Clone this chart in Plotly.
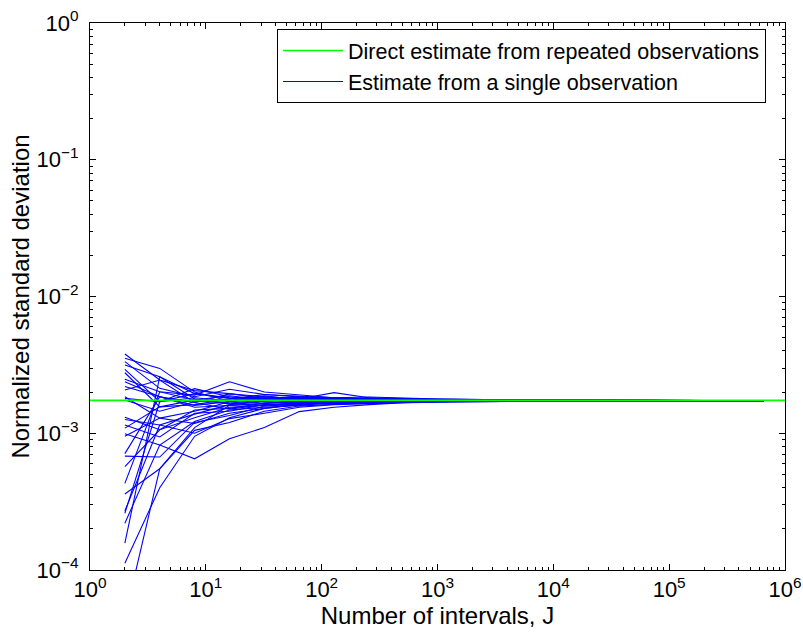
import plotly.graph_objects as go

# Number of intervals J (log axis)
J = [2, 4, 8, 16, 32, 64, 128, 256, 512, 1024, 4096, 16384, 65536, 655360]

# Normalized standard deviation from a single observation, in units of 1e-3 (one list per run)
runs = [
    [3.80, 2.45, 2.05, 1.95, 1.80, 1.84, 1.79, 1.76, 1.77, 1.75, 1.74, 1.745, 1.74, 1.73],
    [3.53, 2.98, 2.00, 1.72, 1.88, 1.76, 1.81, 1.78, 1.74, 1.76, 1.75, 1.74, 1.73, 1.73],
    [3.34, 2.13, 1.85, 2.10, 1.92, 1.85, 1.77, 1.80, 1.78, 1.77, 1.76, 1.75, 1.74, 1.73],
    [3.16, 2.59, 1.78, 1.66, 1.75, 1.70, 1.74, 1.72, 1.73, 1.75, 1.73, 1.74, 1.735, 1.73],
    [2.93, 1.70, 2.12, 1.85, 1.74, 1.80, 1.72, 1.74, 1.76, 1.74, 1.735, 1.73, 1.73, 1.725],
    [2.77, 1.56, 1.62, 1.78, 1.70, 1.68, 1.73, 1.70, 1.72, 1.73, 1.72, 1.73, 1.73, 1.725],
    [2.48, 2.01, 1.90, 2.38, 2.00, 1.92, 1.82, 1.84, 1.80, 1.78, 1.76, 1.75, 1.74, 1.73],
    [2.38, 1.85, 1.55, 1.60, 1.65, 1.74, 1.70, 1.75, 1.73, 1.72, 1.74, 1.73, 1.74, 1.73],
    [2.07, 2.45, 1.68, 1.50, 1.62, 1.66, 1.64, 1.68, 1.70, 1.71, 1.72, 1.725, 1.73, 1.725],
    [1.85, 1.29, 1.45, 1.70, 1.78, 1.73, 1.76, 1.74, 1.75, 1.74, 1.74, 1.74, 1.735, 1.73],
    [1.80, 1.70, 1.95, 1.80, 1.85, 1.78, 1.98, 1.82, 1.79, 1.76, 1.75, 1.74, 1.735, 1.73],
    [1.31, 1.06, 1.30, 1.55, 1.60, 1.68, 1.72, 1.66, 1.69, 1.71, 1.72, 1.73, 1.73, 1.725],
    [1.26, 1.15, 1.00, 1.28, 1.40, 1.55, 1.62, 1.65, 1.68, 1.70, 1.71, 1.72, 1.73, 1.725],
    [1.15, 0.94, 1.40, 1.45, 1.62, 1.60, 1.70, 1.72, 1.70, 1.73, 1.73, 1.73, 1.73, 1.73],
    [1.09, 1.56, 1.75, 1.64, 1.72, 1.76, 1.70, 1.74, 1.72, 1.74, 1.74, 1.735, 1.735, 1.73],
    [0.99, 0.82, 0.65, 0.91, 1.10, 1.44, 1.55, 1.62, 1.67, 1.69, 1.71, 1.72, 1.725, 1.725],
    [0.95, 1.29, 1.18, 1.40, 1.52, 1.62, 1.66, 1.70, 1.71, 1.72, 1.73, 1.73, 1.73, 1.73],
    [0.71, 1.85, 1.60, 1.70, 1.82, 1.75, 1.80, 1.77, 1.76, 1.75, 1.74, 1.74, 1.735, 1.73],
    [0.68, 0.67, 1.20, 1.35, 1.58, 1.64, 1.68, 1.71, 1.74, 1.72, 1.73, 1.73, 1.73, 1.73],
    [0.57, 1.06, 1.48, 1.52, 1.66, 1.70, 1.66, 1.70, 1.72, 1.73, 1.73, 1.735, 1.73, 1.73],
    [0.43, 2.01, 1.75, 1.88, 1.76, 1.80, 1.75, 1.78, 1.76, 1.75, 1.745, 1.74, 1.735, 1.73],
    [0.36, 0.55, 1.05, 1.20, 1.45, 1.58, 1.63, 1.67, 1.70, 1.71, 1.72, 1.72, 1.73, 1.725],
    [0.27, 1.15, 1.38, 1.62, 1.70, 1.66, 1.72, 1.71, 1.73, 1.74, 1.73, 1.735, 1.73, 1.73],
    [0.26, 1.70, 1.82, 1.72, 1.80, 1.82, 1.77, 1.76, 1.77, 1.75, 1.74, 1.74, 1.735, 1.73],
    [0.22, 0.82, 1.22, 1.48, 1.55, 1.60, 1.68, 1.69, 1.71, 1.72, 1.72, 1.73, 1.73, 1.725],
    [0.157, 2.59, 1.95, 1.82, 1.76, 1.84, 1.80, 1.76, 1.78, 1.76, 1.75, 1.74, 1.74, 1.73],
    [0.112, 0.40, 0.95, 1.30, 1.52, 1.63, 1.67, 1.70, 1.72, 1.72, 1.73, 1.73, 1.73, 1.725],
    [0.045, 0.55, 1.10, 1.60, 1.65, 1.72, 1.70, 1.73, 1.74, 1.73, 1.74, 1.735, 1.73, 1.73],
    [1.75, 1.45, 1.70, 1.78, 1.92, 1.86, 1.82, 1.79, 1.78, 1.77, 1.75, 1.745, 1.74, 1.73],
    [2.20, 1.85, 1.68, 1.94, 1.85, 1.79, 1.76, 1.78, 1.75, 1.76, 1.745, 1.74, 1.735, 1.73],
]

# direct estimate from repeated observations
direct_x = [1, 1e6]
direct_val = 1.74e-3

xtick_vals = [1, 10, 100, 1e3, 1e4, 1e5, 1e6]
xtick_text = ["10<sup>%d</sup>" % k for k in range(0, 7)]
ytick_vals = [1e-4, 1e-3, 1e-2, 1e-1, 1]
ytick_text = ["10<sup>\u2212%d</sup>" % k for k in (4, 3, 2, 1)] + ["10<sup>0</sup>"]

x_minor = [m * 10 ** e for e in range(0, 6) for m in range(2, 10)]
y_minor = [m * 10.0 ** e for e in range(-4, 0) for m in range(2, 10)]

fig = go.Figure()

for i, r in enumerate(runs):
    fig.add_trace(go.Scatter(
        x=J, y=[v * 1e-3 for v in r], mode="lines",
        line=dict(color="rgb(0,0,255)", width=1.1),
        name="Estimate from a single observation",
        showlegend=(i == 0), legendrank=2, hoverinfo="skip",
    ))

fig.add_trace(go.Scatter(
    x=direct_x, y=[direct_val, direct_val], mode="lines",
    line=dict(color="rgb(0,255,0)", width=1.6),
    name="Direct estimate from repeated observations",
    legendrank=1, hoverinfo="skip",
))

axis_common = dict(
    type="log", showgrid=False, zeroline=False, automargin=False,
    showline=True, linecolor="black", linewidth=1, mirror="allticks",
    ticks="inside", ticklen=6, tickcolor="black", tickwidth=1,
    ticklabeloverflow="allow",
    tickfont=dict(family="Liberation Sans, Arial", size=22, color="black"),
)

fig.update_layout(
    width=803, height=637,
    margin=dict(l=90, r=18, t=23, b=67),
    paper_bgcolor="white", plot_bgcolor="white",
    font=dict(family="Liberation Sans, Arial", size=20, color="black"),
    hovermode=False,
    xaxis=dict(
        axis_common, range=[0, 6], tickmode="array", tickvals=xtick_vals, ticktext=xtick_text,
        minor=dict(tickmode="array", tickvals=x_minor, ticks="inside", ticklen=3, tickcolor="black"),
        title=dict(text="Number of intervals, J", standoff=4),
    ),
    yaxis=dict(
        axis_common, range=[-4, 0], tickmode="array", tickvals=ytick_vals, ticktext=ytick_text,
        ticklabelstandoff=6,
        minor=dict(tickmode="array", tickvals=y_minor, ticks="inside", ticklen=3, tickcolor="black"),
        title=dict(text="Normalized standard deviation", standoff=0),
    ),
    legend=dict(
        x=0.9727, y=0.989, xanchor="right", yanchor="top",
        bgcolor="white", bordercolor="black", borderwidth=1,
        font=dict(size=21.5), tracegroupgap=0, itemwidth=60,
    ),
)

# drop the default page margin so the figure fills the window exactly
fig.write_html(
    "out.html",
    config={"displayModeBar": False},
    post_script="document.body.style.margin='0';document.body.style.overflow='hidden';",
)
